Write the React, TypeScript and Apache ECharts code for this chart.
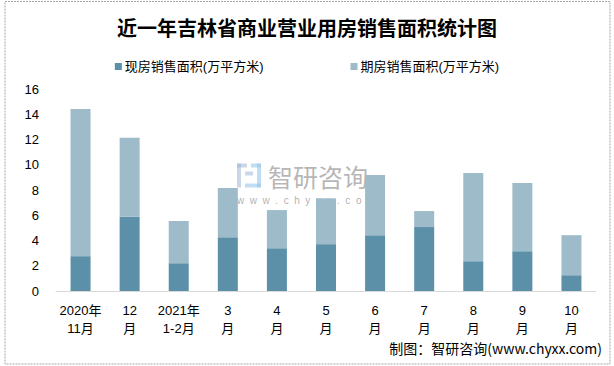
import React, { useEffect, useRef } from "react";
import * as echarts from "echarts";

const categories = ["2020年\n11月", "12\n月", "2021年\n1-2月", "3\n月", "4\n月", "5\n月", "6\n月", "7\n月", "8\n月", "9\n月", "10\n月"];
const spotArea = [2.76, 5.88, 2.2, 4.26, 3.39, 3.71, 4.42, 5.06, 2.36, 3.15, 1.25];
const futuresArea = [11.65, 6.25, 3.34, 3.9, 3.02, 3.63, 4.77, 1.27, 6.99, 5.4, 3.17];
const seriesNames = ["现房销售面积(万平方米)", "期房销售面积(万平方米)"];
const titleText = "近一年吉林省商业营业用房销售面积统计图";
const sourceText = "制图：智研咨询(www.chyxx.com)";

const FONT = "'Liberation Sans', 'Noto Sans CJK SC', sans-serif";

export default function App() {
  const ref = useRef<HTMLDivElement>(null);
  useEffect(() => {
    if (!ref.current) return;
    const chart = echarts.init(ref.current, null, { renderer: "svg" });
    chart.setOption({
      animation: false,
      backgroundColor: "#fff",
      title: {
        text: titleText,
        left: "center",
        top: 12,
        textStyle: { fontSize: 20, fontWeight: "bold", color: "#000", fontFamily: "'Noto Sans CJK SC', serif" },
      },
      legend: {
        top: 55,
        left: "center",
        itemGap: 87,
        itemWidth: 7,
        itemHeight: 7,
        icon: "rect",
        textStyle: { fontSize: 13, color: "#000", fontFamily: FONT, padding: [0, 0, 0, -2] },
        data: seriesNames,
      },
      grid: { left: 56, right: 18, top: 89, bottom: 75, containLabel: false },
      xAxis: {
        type: "category",
        data: categories,
        axisLine: { lineStyle: { color: "#D9D9D9", width: 1 } },
        axisTick: { show: false },
        axisLabel: { fontSize: 13, color: "#000", lineHeight: 18, margin: 10, fontFamily: FONT, interval: 0 },
      },
      yAxis: {
        type: "value",
        min: 0,
        max: 16,
        interval: 2,
        splitLine: { show: false },
        axisLine: { show: false },
        axisTick: { show: false },
        axisLabel: { fontSize: 13, color: "#000", margin: 17, fontFamily: FONT },
      },
      series: [
        {
          name: seriesNames[0],
          type: "bar",
          stack: "total",
          barWidth: 20,
          itemStyle: { color: "#5B90A8" },
          data: spotArea,
        },
        {
          name: seriesNames[1],
          type: "bar",
          stack: "total",
          barWidth: 20,
          itemStyle: { color: "#9DBBC9" },
          data: futuresArea,
        },
      ],
      graphic: [
        {
          type: "rect",
          shape: { x: 5, y: 1.5, width: 605, height: 362.5 },
          style: { fill: "none", stroke: "#A6A6A6", lineWidth: 1, lineDash: [2, 1] },
          silent: true,
        },
        {
          type: "group",
          left: 237,
          top: 163,
          z: 100,
          children: [
            { type: "rect", shape: { x: 0, y: 0, width: 10, height: 4 }, style: { fill: "rgba(160,180,215,0.55)" } },
            { type: "rect", shape: { x: 0, y: 0, width: 4, height: 24 }, style: { fill: "rgba(160,180,215,0.55)" } },
            { type: "rect", shape: { x: 8, y: 8, width: 8, height: 4 }, style: { fill: "rgba(160,180,215,0.55)" } },
            { type: "rect", shape: { x: 14, y: 0, width: 10, height: 4 }, style: { fill: "rgba(150,200,235,0.6)" } },
            { type: "rect", shape: { x: 20, y: 0, width: 4, height: 24 }, style: { fill: "rgba(150,200,235,0.6)" } },
            { type: "rect", shape: { x: 8, y: 20, width: 16, height: 4 }, style: { fill: "rgba(150,200,235,0.6)" } },
            {
              type: "text",
              x: 31,
              y: 12,
              style: { text: "智研咨询", fontSize: 25, fill: "rgba(150,150,150,0.7)", fontFamily: "'Noto Sans CJK SC', sans-serif", verticalAlign: "middle" },
            },
            {
              type: "text",
              x: 0,
              y: 37,
              style: { text: "w  w  w  .  c  h  y  x  x  .  c  o  m", fontSize: 10, fill: "rgba(150,150,150,0.75)", fontFamily: FONT, verticalAlign: "middle" },
            },
          ],
        },
        {
          type: "text",
          right: 12,
          top: 341,
          style: { text: sourceText, fontSize: 14, fill: "#000", fontFamily: "'Noto Sans CJK SC', sans-serif" },
        },
      ],
    });
    return () => chart.dispose();
  }, []);
  return <div ref={ref} style={{ position: "fixed", left: 0, top: 0, width: 614, height: 366 }} />;
}
